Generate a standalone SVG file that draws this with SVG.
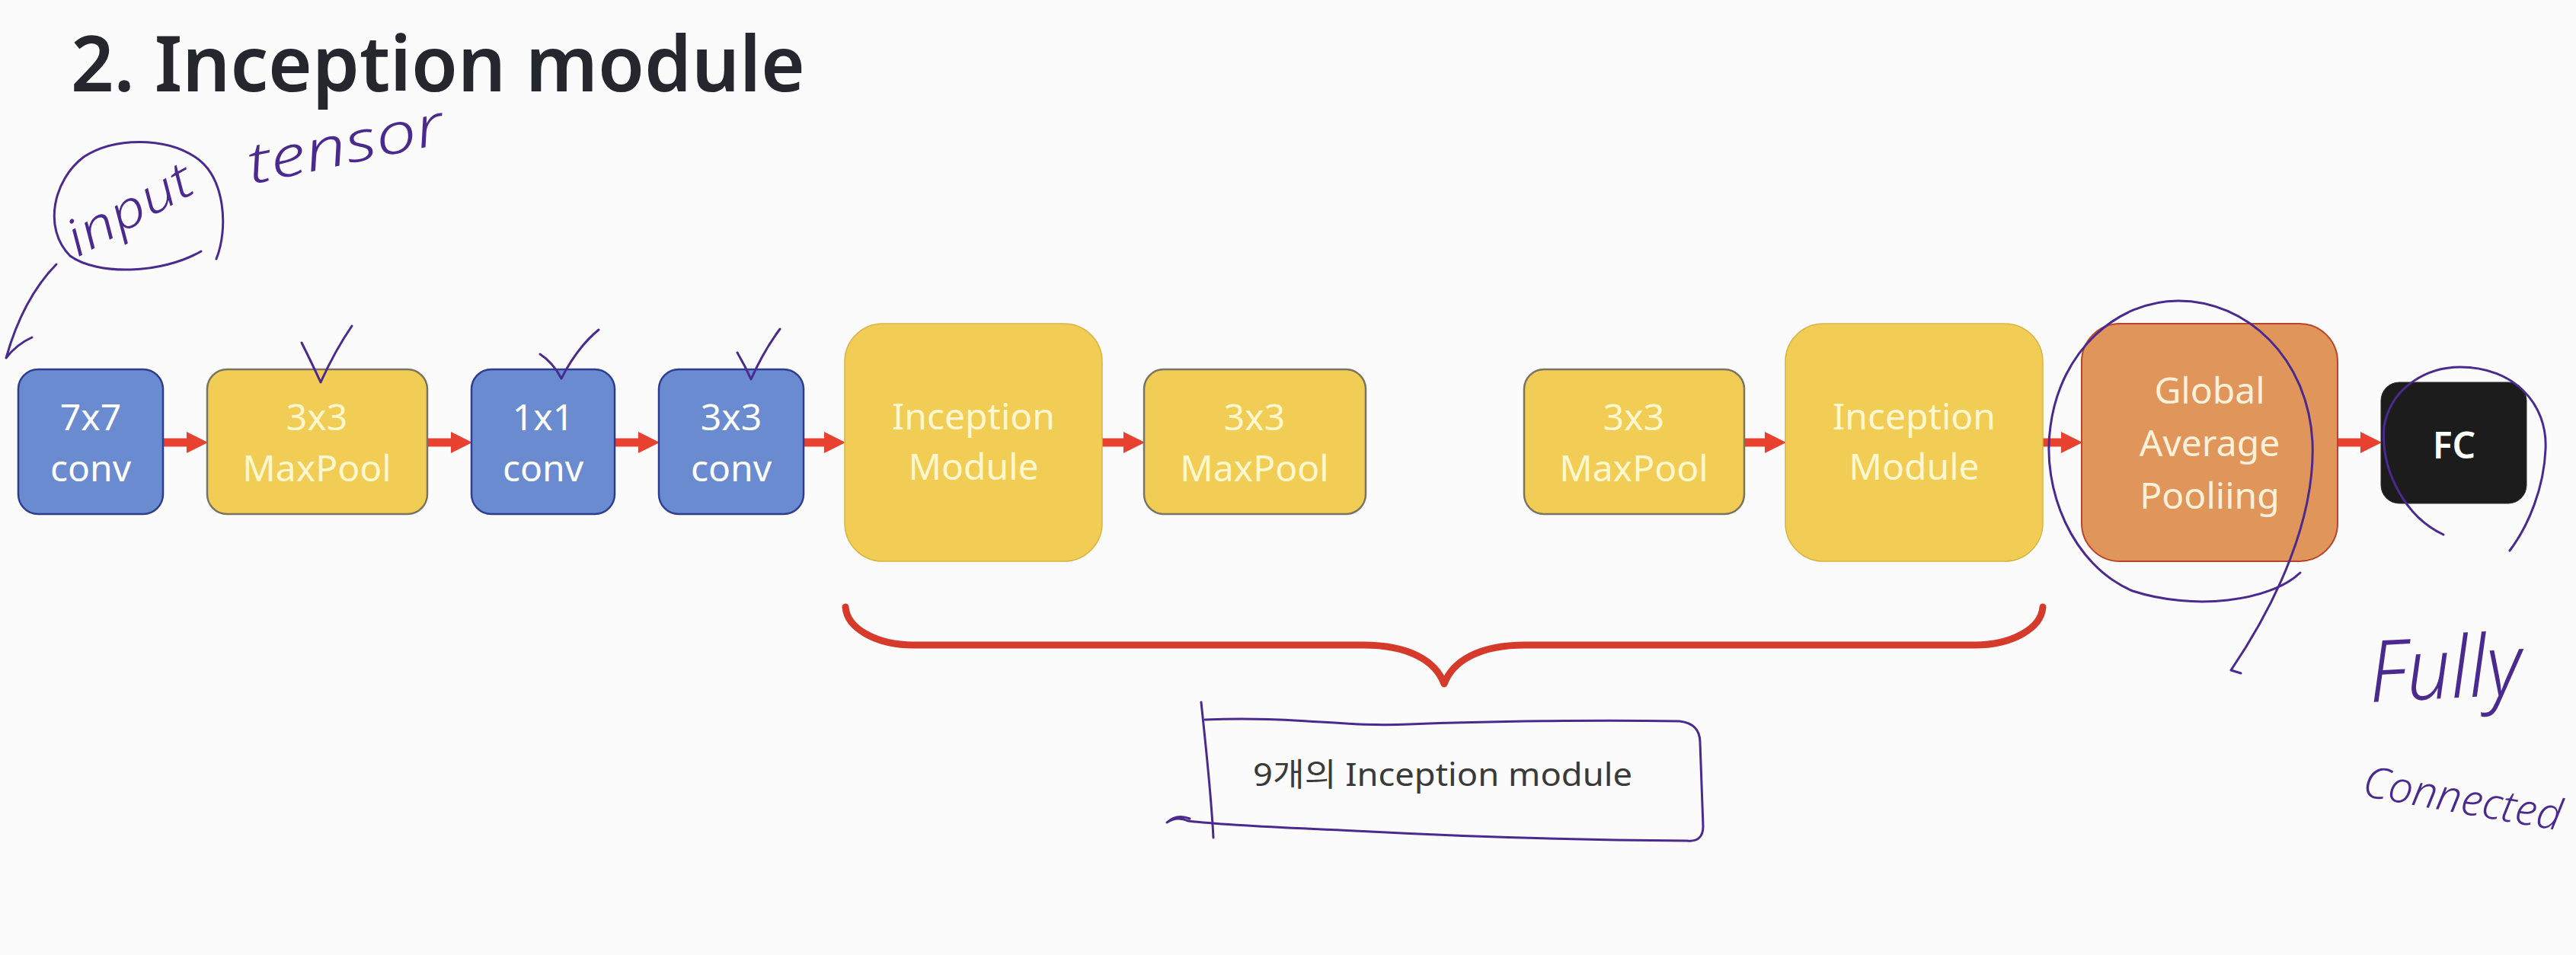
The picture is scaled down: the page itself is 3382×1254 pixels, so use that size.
<svg xmlns="http://www.w3.org/2000/svg" width="3382" height="1254" viewBox="0 0 3382 1254">
  <style>
    .t { font-family: "Noto Sans", "Open Sans", "Noto Sans CJK KR", sans-serif; font-size: 48px; text-anchor: middle; }
    .blue { fill: #6A8BCF; stroke: #2E3E8E; stroke-width: 2.5; }
    .ypool { fill: #F2CD55; stroke: #7A7560; stroke-width: 2.5; }
    .yinc { fill: #F2CD55; stroke: #D9B444; stroke-width: 1.5; }
    .gap { fill: #E0955A; stroke: #B9442C; stroke-width: 2; }
    .fc { fill: #1C1C1C; stroke: #2A2A2A; stroke-width: 1; }
    .wt { fill: #FFFFFF; }
    .ct { fill: #FFF7CF; }
    .ot { fill: #FFF1D9; }
    .conn line { stroke: #E8412F; stroke-width: 11; }
    .ink { fill: none; stroke: #4B2A90; stroke-width: 3; stroke-linecap: round; stroke-linejoin: round; }
    .hand { font-family: "Noto Sans", "DejaVu Sans", sans-serif; font-style: italic; font-weight: 300; fill: #4B2A90; }
  </style>
  <defs>
    <marker id="ah" markerUnits="userSpaceOnUse" markerWidth="28" markerHeight="28" refX="0" refY="14" orient="auto">
      <path d="M0,0 L28,14 L0,28 Z" fill="#E8412F"/>
    </marker>
  </defs>
  <rect width="3382" height="1254" fill="#FBFBFB"/>

  <text id="title" x="93" y="120" font-family="'Noto Sans', 'Open Sans', sans-serif" font-size="102" font-weight="600" fill="#26262E" textLength="964" lengthAdjust="spacingAndGlyphs">2. Inception module</text>

  <g class="conn" id="connectors">
    <line x1="214" y1="581" x2="245" y2="581" marker-end="url(#ah)"/>
    <line x1="561" y1="581" x2="592" y2="581" marker-end="url(#ah)"/>
    <line x1="807" y1="581" x2="838" y2="581" marker-end="url(#ah)"/>
    <line x1="1055" y1="581" x2="1082" y2="581" marker-end="url(#ah)"/>
    <line x1="1447" y1="581" x2="1475" y2="581" marker-end="url(#ah)"/>
    <line x1="2290" y1="581" x2="2317" y2="581" marker-end="url(#ah)"/>
    <line x1="2682" y1="581" x2="2706" y2="581" marker-end="url(#ah)"/>
    <line x1="3069" y1="581" x2="3099" y2="581" marker-end="url(#ah)"/>
  </g>

  <g id="n1">
    <rect class="blue" x="24" y="485" width="190" height="190" rx="26"/>
    <text class="t wt" x="119" y="565">7x7</text>
    <text class="t wt" x="119" y="632">conv</text>
  </g>
  <g id="n2">
    <rect class="ypool" x="272" y="485" width="289" height="190" rx="26"/>
    <text class="t ct" x="416" y="565">3x3</text>
    <text class="t ct" x="416" y="632">MaxPool</text>
  </g>
  <g id="n3">
    <rect class="blue" x="619" y="485" width="188" height="190" rx="26"/>
    <text class="t wt" x="713" y="565">1x1</text>
    <text class="t wt" x="713" y="632">conv</text>
  </g>
  <g id="n4">
    <rect class="blue" x="865" y="485" width="190" height="190" rx="26"/>
    <text class="t wt" x="960" y="565">3x3</text>
    <text class="t wt" x="960" y="632">conv</text>
  </g>
  <g id="n5">
    <rect class="yinc" x="1109" y="425" width="338" height="312" rx="50"/>
    <text class="t ct" x="1278" y="564">Inception</text>
    <text class="t ct" x="1278" y="630">Module</text>
  </g>
  <g id="n6">
    <rect class="ypool" x="1502" y="485" width="291" height="190" rx="26"/>
    <text class="t ct" x="1647" y="565">3x3</text>
    <text class="t ct" x="1647" y="632">MaxPool</text>
  </g>
  <g id="n7">
    <rect class="ypool" x="2001" y="485" width="289" height="190" rx="26"/>
    <text class="t ct" x="2145" y="565">3x3</text>
    <text class="t ct" x="2145" y="632">MaxPool</text>
  </g>
  <g id="n8">
    <rect class="yinc" x="2344" y="425" width="338" height="312" rx="50"/>
    <text class="t ct" x="2513" y="564">Inception</text>
    <text class="t ct" x="2513" y="630">Module</text>
  </g>
  <g id="n9">
    <rect class="gap" x="2733" y="425" width="336" height="312" rx="50"/>
    <text class="t ot" x="2901" y="530">Global</text>
    <text class="t ot" x="2901" y="599">Average</text>
    <text class="t ot" x="2901" y="668">Pooliing</text>
  </g>
  <g id="n10">
    <rect class="fc" x="3126" y="502" width="191" height="159" rx="24"/>
    <text class="t wt" x="3222" y="602" font-size="50" font-weight="600">FC</text>
  </g>

  <g id="brace">
    <path d="M1110 797 C1112 825 1150 847 1200 847 L1790 847 C1850 847 1885 868 1896 898 C1907 868 1942 847 2002 847 L2592 847 C2642 847 2680 825 2682 797" fill="none" stroke="#D63A2A" stroke-width="9" stroke-linecap="round" stroke-linejoin="round"/>
  </g>

  <g id="label">
    <text x="1645" y="1032" font-family="'Noto Sans', 'Noto Sans CJK KR', sans-serif" font-size="42" fill="#3A3A3A" textLength="498" lengthAdjust="spacingAndGlyphs">9개의 Inception module</text>
  </g>

  <g id="annotations">
    <path class="ink" d="M284 340 C300 300 296 232 256 206 C216 180 150 180 110 206 C70 236 56 300 92 336 C128 362 212 360 264 330"/>
    <text class="hand" x="0" y="0" font-size="66" textLength="180" lengthAdjust="spacingAndGlyphs" transform="translate(102 338) rotate(-29)">input</text>
    <text class="hand" x="0" y="0" font-size="74" textLength="262" lengthAdjust="spacingAndGlyphs" transform="translate(330 242) rotate(-12)">tensor</text>
    <path class="ink" d="M74 347 Q30 392 8 470 Q22 452 42 443"/>
    <path class="ink" d="M396 450 Q410 478 421 502 Q440 460 462 428"/>
    <path class="ink" d="M709 465 Q726 476 737 497 Q758 456 786 433"/>
    <path class="ink" d="M968 463 Q978 480 986 498 Q1003 460 1024 432"/>
    <path class="ink" d="M3020 752 C2980 790 2880 802 2800 776 C2720 742 2680 642 2692 560 C2705 460 2780 395 2860 395 C2950 395 3030 470 3036 580 C3040 680 2990 790 2929 880 L2942 884"/>
    <path class="ink" d="M3208 702 C3160 680 3125 620 3130 560 C3140 505 3190 482 3230 482 C3300 482 3345 530 3342 590 C3340 640 3320 690 3295 723"/>
    <text class="hand" x="0" y="0" font-size="112" textLength="200" lengthAdjust="spacingAndGlyphs" transform="translate(3112 922) rotate(-3)">Fully</text>
    <text class="hand" x="0" y="0" font-size="57" transform="translate(3100 1045) rotate(10)">Connected</text>
    <path class="ink" d="M1577 922 C1583 980 1590 1040 1593 1100"/>
    <path class="ink" stroke-width="4" d="M1582 945 C1700 940 1760 955 1850 951 C1950 947 2100 945 2205 947 Q2232 950 2232 975 L2236 1085 Q2236 1106 2215 1104 C2100 1103 1950 1100 1800 1092 C1700 1087 1620 1085 1560 1078 Q1545 1071 1532 1080 Q1545 1068 1562 1075"/>
  </g>
</svg>
